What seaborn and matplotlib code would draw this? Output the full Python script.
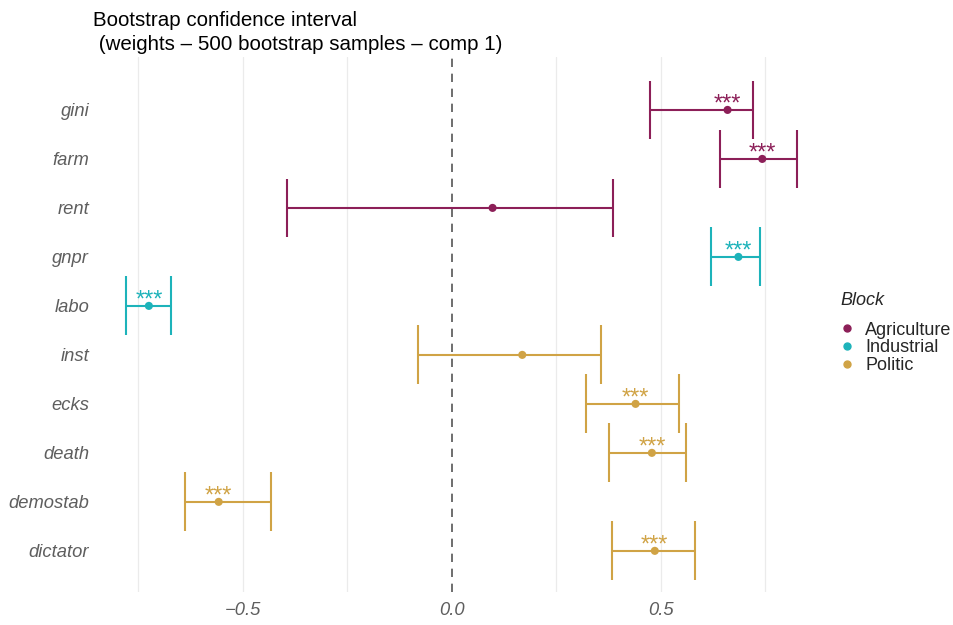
import numpy as np
import pandas as pd
import matplotlib
matplotlib.use("Agg")
import matplotlib.pyplot as plt
from matplotlib.lines import Line2D
import seaborn as sns

# ---- data ----
variables = ["gini", "farm", "rent", "gnpr", "labo", "inst", "ecks", "death", "demostab", "dictator"]
blocks    = ["Agriculture"] * 3 + ["Industrial"] * 2 + ["Politic"] * 5
estimate  = [0.660, 0.743, 0.098, 0.686, -0.724, 0.169, 0.440, 0.479, -0.557, 0.486]
lower     = [0.474, 0.643, -0.393, 0.621, -0.779, -0.081, 0.321, 0.376, -0.638, 0.383]
upper     = [0.721, 0.826, 0.386, 0.738, -0.671, 0.357, 0.543, 0.560, -0.431, 0.583]
signif    = ["***", "***", "", "***", "***", "", "***", "***", "***", "***"]

COLORS = {"Agriculture": "#8c1f58", "Industrial": "#1db3ba", "Politic": "#d0a345"}

df = pd.DataFrame({"var": variables, "block": blocks, "est": estimate,
                   "lo": lower, "hi": upper, "sig": signif})
df["ypos"] = np.arange(len(df))

sns.set_theme(style="white")
plt.rcParams["font.family"] = ["Liberation Sans", "DejaVu Sans"]

fig = plt.figure(figsize=(9.54, 6.25), dpi=100)
ax = fig.add_axes([92 / 954, 1 - 592 / 625, (830 - 92) / 954, (592 - 57) / 625])

# vertical grid (major + minor look the same)
for gx in [-0.75, -0.5, -0.25, 0.25, 0.5, 0.75]:
    ax.axvline(gx, color="#ebebeb", lw=0.9, zorder=0)
ax.axvline(0, color="#555555", lw=1.2, ls=(0, (5, 4)), zorder=1)

# intervals
for _, r in df.iterrows():
    c = COLORS[r.block]
    ax.hlines(r.ypos, r.lo, r.hi, color=c, lw=1.5, zorder=2)
    ax.vlines([r.lo, r.hi], r.ypos - 0.6, r.ypos + 0.6, color=c, lw=1.5, zorder=2)
    if r.sig:
        ax.text(r.est, r.ypos + 0.01, r.sig, color=c, ha="center", va="baseline",
                fontsize=17, zorder=4)

sns.scatterplot(data=df, x="est", y="ypos", hue="block", palette=COLORS,
                s=34, edgecolor="none", legend=False, ax=ax, zorder=3)

ax.set_xlim(-0.86, 0.905)
ax.set_ylim(9.84, -1.08)
ax.set_yticks(df.ypos)
ax.set_yticklabels(df["var"])
ax.set_xticks([-0.5, 0.0, 0.5])
ax.set_xticklabels(["\u22120.5", "0.0", "0.5"])
ax.tick_params(axis="both", length=0, labelsize=13.2, labelcolor="#5e5e5e")
ax.tick_params(axis="y", pad=2)
ax.tick_params(axis="x", pad=7)
for lab in ax.get_xticklabels() + ax.get_yticklabels():
    lab.set_fontstyle("italic")
ax.set_xlabel("")
ax.set_ylabel("")
for sp in ax.spines.values():
    sp.set_visible(False)

fig.text(93 / 954, 1 - 20 / 625, "Bootstrap confidence interval",
         ha="left", va="center", fontsize=14.8, color="black")
fig.text(93 / 954, 1 - 45 / 625, " (weights \u2013 500 bootstrap samples \u2013 comp 1)",
         ha="left", va="center", fontsize=14.8, color="black")

handles = [Line2D([0], [0], marker="o", color=COLORS[b], lw=0, markersize=5)
           for b in COLORS]
leg = fig.legend(handles, list(COLORS), title="Block", loc="upper left",
                 bbox_to_anchor=(840 / 954, 1 - 292 / 625), frameon=False,
                 fontsize=13, title_fontsize=13, handlelength=0.8,
                 handletextpad=0.6, labelspacing=0.05, borderaxespad=0,
                 borderpad=0)
leg.get_title().set_fontstyle("italic")
leg._legend_box.align = "left"
leg._legend_box.sep = 9

fig.savefig("out.png", dpi=100)
